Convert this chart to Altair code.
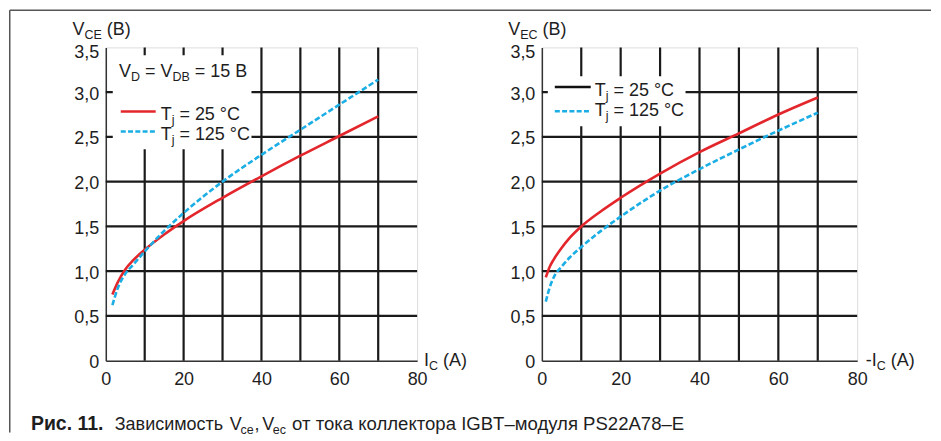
import altair as alt
import pandas as pd

# ---------------- data ----------------
# Left panel: V_CE vs I_C
IC_L_25 = [1.7, 3, 5, 7, 10, 15, 20, 30, 40, 50, 60, 70]
VCE_25 = [0.74, 0.87, 1.02, 1.12, 1.24, 1.41, 1.56, 1.82, 2.06, 2.29, 2.51, 2.73]
IC_L_125 = [1.7, 3, 5, 7, 10, 15, 20, 30, 40, 50, 60, 70]
VCE_125 = [0.62, 0.80, 0.97, 1.07, 1.22, 1.45, 1.65, 2.00, 2.30, 2.58, 2.86, 3.14]

# Right panel: V_EC vs -I_C
IC_R_25 = [1, 2, 3, 5, 7, 10, 15, 20, 30, 40, 50, 60, 70]
VEC_25 = [0.93, 1.05, 1.13, 1.26, 1.37, 1.50, 1.67, 1.82, 2.09, 2.33, 2.54, 2.75, 2.94]
IC_R_125 = [1, 2, 3, 5, 7, 10, 15, 20, 30, 40, 50, 60, 70]
VEC_125 = [0.66, 0.82, 0.93, 1.05, 1.15, 1.27, 1.45, 1.61, 1.90, 2.14, 2.36, 2.57, 2.77]

GRID_X = [10, 20, 30, 40, 50, 60, 70]
GRID_Y = [0.5, 1.0, 1.5, 2.0, 2.5, 3.0]
X_TICKS = [0, 20, 40, 60, 80]
Y_TICKS = [0, 0.5, 1.0, 1.5, 2.0, 2.5, 3.0, 3.5]

CAPTION_BOLD = "Рис. 11."
CAPTION_WORD = "Зависимость"
CAPTION_TAIL = "от тока коллектора IGBT–модуля PS22A78–E"

# ---------------- styling / layout ----------------
W_L, W_R, H = 312, 316, 314
XMAX, YMAX = 80.0, 3.5
RED = "#e3262b"
BLUE = "#1aaee5"
INK = "#1e1e1e"
GRID = "#1a1a1a"
FONT = "Liberation Sans"
FS, FSS, SUB = 18, 12.5, 4

AW = {' ': .278, '(': .333, ')': .333, ',': .278, '.': .278, '-': .333, '=': .584,
      '°': .4, 'A': .667, 'B': .667, 'C': .722, 'D': .722, 'E': .667, 'I': .278,
      'T': .611, 'V': .667, 'j': .222}


def tw(s, fs):
    return sum(AW.get(c, .556) for c in s) * fs


def to_data(px, py, W):
    return px * XMAX / W, YMAX - py * YMAX / H


def run(rows, x, y, pieces, W):
    for text, sub in pieces:
        fs = FSS if sub else FS
        lead = len(text) - len(text.lstrip(' '))
        x += lead * AW[' '] * fs
        t = text.lstrip(' ')
        dx, dy = to_data(x, y + (SUB if sub else 0), W)
        rows.append(dict(x=dx, y=dy, t=t, fs=fs))
        x += tw(t, fs)


def at(rows, x, y, text, fs, W):
    dx, dy = to_data(x, y, W)
    rows.append(dict(x=dx, y=dy, t=text, fs=fs))


xs = alt.Scale(domain=[0, XMAX], nice=False, zero=False)
ys = alt.Scale(domain=[0, YMAX], nice=False, zero=False)

x_axis = alt.Axis(values=X_TICKS, title=None, grid=False, ticks=False, labelPadding=10,
                  labelFontSize=FS, labelFont=FONT, labelColor=INK, domainColor="#333",
                  domainWidth=1.5, labelFlush=False)
y_axis = alt.Axis(values=Y_TICKS, title=None, grid=False, ticks=False, labelPadding=7,
                  labelFontSize=FS, labelFont=FONT, labelColor=INK, domainColor="#333",
                  domainWidth=1.5, labelFlush=False,
                  labelOffset={"expr": "datum.value == 3.5 ? 5 : 2"},
                  labelExpr="datum.value == 0 ? '0' : replace(format(datum.value, '.1f'), '.', ',')")


def X(field):
    return alt.X(field, scale=xs, axis=x_axis)


def Y(field):
    return alt.Y(field, scale=ys, axis=y_axis)


def px_rect(x0, x1, y0, y1, W):
    a, b = to_data(x0, y0, W)
    c, d = to_data(x1, y1, W)
    return pd.DataFrame({'x': [a], 'x2': [c], 'y': [b], 'y2': [d]})


def px_hrule(x0, x1, y, W):
    a, b = to_data(x0, y, W)
    c, _ = to_data(x1, y, W)
    return pd.DataFrame({'x': [a], 'x2': [c], 'y': [b]})


def px_vrule(x, y0, y1, W):
    a, b = to_data(x, y0, W)
    _, d = to_data(x, y1, W)
    return pd.DataFrame({'x': [a], 'y': [b], 'y2': [d]})


def hrule(df, color, dash=None, width=2.6):
    kw = dict(color=color, strokeWidth=width)
    if dash:
        kw['strokeDash'] = dash
    return alt.Chart(df).mark_rule(**kw).encode(x=X('x:Q'), x2='x2:Q', y=Y('y:Q'))


def panel(W, ic25, v25, ic125, v125, rows, bold_rows, legend_box, leg_lines, extra):
    gx = pd.DataFrame({'g': GRID_X, 'a': 0.0, 'b': YMAX})
    gy = pd.DataFrame({'g': GRID_Y, 'a': 0.0, 'b': XMAX})
    vgrid = alt.Chart(gx).mark_rule(color=GRID, strokeWidth=2.2).encode(
        x=X('g:Q'), y=Y('a:Q'), y2='b:Q')
    hgrid = alt.Chart(gy).mark_rule(color=GRID, strokeWidth=2.2).encode(
        y=Y('g:Q'), x=X('a:Q'), x2='b:Q')
    box = alt.Chart(legend_box).mark_rect(color="white").encode(
        x=X('x:Q'), x2='x2:Q', y=Y('y:Q'), y2='y2:Q')
    c25 = alt.Chart(pd.DataFrame({'ic': ic25, 'v': v25})).mark_line(
        color=RED, strokeWidth=2.6, interpolate='monotone').encode(x=X('ic:Q'), y=Y('v:Q'))
    c125 = alt.Chart(pd.DataFrame({'ic': ic125, 'v': v125})).mark_line(
        color=BLUE, strokeWidth=2.6, strokeDash=[5.5, 2.5], interpolate='monotone').encode(
        x=X('ic:Q'), y=Y('v:Q'))
    txt = alt.Chart(pd.DataFrame(rows)).mark_text(
        align='left', baseline='alphabetic', font=FONT, color=INK).encode(
        x=X('x:Q'), y=Y('y:Q'), text='t:N', size=alt.Size('fs:Q', scale=None))
    layers = [vgrid, hgrid, box, c25, c125] + leg_lines + [txt] + extra
    if bold_rows:
        layers.append(alt.Chart(pd.DataFrame(bold_rows)).mark_text(
            align='left', baseline='alphabetic', font=FONT, fontWeight='bold', color=INK).encode(
            x=X('x:Q'), y=Y('y:Q'), text='t:N', size=alt.Size('fs:Q', scale=None)))
    return alt.layer(*layers).properties(width=W, height=H)


# ---------------- left panel annotations (pixels from plot origin) ----------------
rows_L = []
run(rows_L, -33.3, -12.5, [("V", 0), ("CE", 1), (" (B)", 0)], W_L)
run(rows_L, 319, 319.5, [("I", 0), ("C", 1), (" (A)", 0)], W_L)
run(rows_L, 13.3, 29.3, [("V", 0), ("D", 1), (" = V", 0), ("DB", 1), (" = 15 B", 0)], W_L)
run(rows_L, 55, 72.7, [("T", 0), ("j", 1), (" = 25 °C", 0)], W_L)
run(rows_L, 55, 92.7, [("T", 0), ("j", 1), (" = 125 °C", 0)], W_L)
# caption (page x minus 105, page y minus 46)
CY = 429.5 - 46
at(rows_L, 114 - 105, CY, CAPTION_WORD, FS, W_L)
at(rows_L, 229.3 - 105, CY, "V", FS, W_L)
at(rows_L, 240 - 105, CY + SUB, "ce", FSS, W_L)
at(rows_L, 254 - 105, CY, ",", FS, W_L)
at(rows_L, 261.7 - 105, CY, "V", FS, W_L)
at(rows_L, 272.3 - 105, CY + SUB, "ec", FSS, W_L)
at(rows_L, 291.7 - 105, CY, CAPTION_TAIL, 18.6, W_L)
bold_L = []
at(bold_L, 30 - 105, CY, CAPTION_BOLD, 19.5, W_L)

box_L = px_rect(7, 146, 8, 102, W_L)
leg_L = [hrule(px_hrule(15, 50, 64.3, W_L), RED),
         hrule(px_hrule(15, 51, 84.3, W_L), BLUE, [5, 2.3])]
# outer frame: top and left edges (leftmost / topmost content, sets the origin)
frame = [
    hrule(px_hrule(-96.25, 827, -37.25, W_L), "#555", width=1.5),
    alt.Chart(px_vrule(-96.25, -37.25, 386, W_L)).mark_rule(color="#555", strokeWidth=1.5).encode(
        x=X('x:Q'), y=Y('y:Q'), y2='y2:Q'),
]

left = panel(W_L, IC_L_25, VCE_25, IC_L_125, VCE_125, rows_L, bold_L, box_L, leg_L, frame)

# ---------------- right panel ----------------
rows_R = []
run(rows_R, -33.7, -12.5, [("V", 0), ("EC", 1), (" (B)", 0)], W_R)
run(rows_R, 324.7, 319.5, [("-I", 0), ("C", 1), (" (A)", 0)], W_R)
run(rows_R, 53, 49, [("T", 0), ("j", 1), (" = 25 °C", 0)], W_R)
run(rows_R, 53, 69, [("T", 0), ("j", 1), (" = 125 °C", 0)], W_R)
box_R = px_rect(6, 144, 29, 79, W_R)
leg_R = [hrule(px_hrule(13, 49, 39.7, W_R), "#111"),
         hrule(px_hrule(13, 49, 64, W_R), BLUE, [5, 2.3])]

right = panel(W_R, IC_R_25, VEC_25, IC_R_125, VEC_125, rows_R, [], box_R, leg_R, [])

chart = alt.hconcat(left, right, spacing=125, bounds="flush").properties(
    padding={"left": 0, "top": 0, "right": 0, "bottom": 0},
).configure_view(stroke="#777", strokeWidth=1).configure(background="white")

chart.save("out.html", embed_options={"renderer": "svg", "actions": False})
